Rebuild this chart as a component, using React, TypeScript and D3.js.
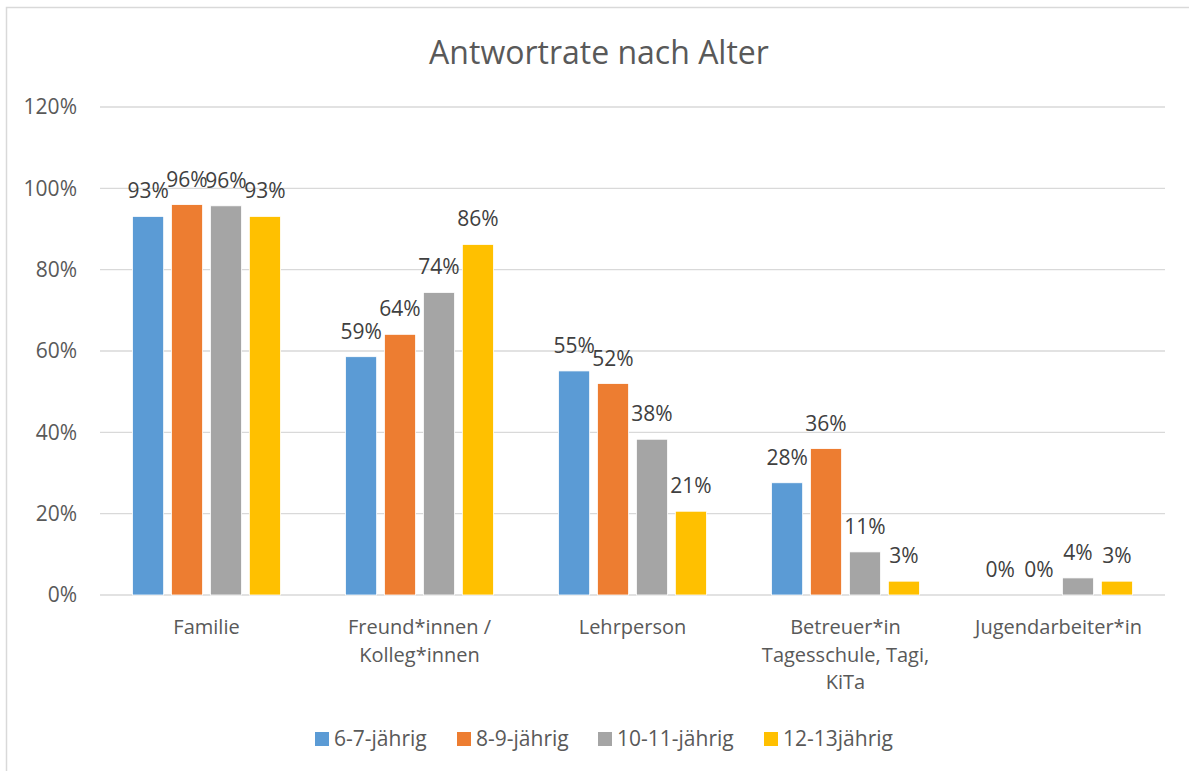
import { useEffect, useRef } from "react";
import * as d3 from "d3";

const categories = [
  ["Familie"],
  ["Freund*innen /", "Kolleg*innen"],
  ["Lehrperson"],
  ["Betreuer*in", "Tagesschule, Tagi,", "KiTa"],
  ["Jugendarbeiter*in"],
];
const seriesNames = ["6-7-jährig", "8-9-jährig", "10-11-jährig", "12-13jährig"];
const seriesColors = ["#5b9bd5", "#ed7d31", "#a5a5a5", "#ffc000"];

// values per series, in category order (percent)
const age6to7 = [93.1, 58.6, 55.1, 27.6, 0];
const age8to9 = [96.0, 64.1, 52.0, 36.0, 0];
const age10to11 = [95.7, 74.4, 38.3, 10.6, 4.2];
const age12to13 = [93.1, 86.2, 20.6, 3.4, 3.4];

const yTicks = [0, 20, 40, 60, 80, 100, 120];

const W = 1189;
const H = 771;

const App = () => {
  const svgRef = useRef<SVGSVGElement | null>(null);

  useEffect(() => {
    if (!svgRef.current) return;
    const svg = d3.select(svgRef.current);
    svg.selectAll("*").remove();

    const font = "Open Sans, Noto Sans, sans-serif";
    const values = [age6to7, age8to9, age10to11, age12to13];

    // chart frame
    svg
      .append("rect")
      .attr("x", 6.5)
      .attr("y", 7.5)
      .attr("width", W + 20)
      .attr("height", H + 20)
      .attr("fill", "#fff")
      .attr("stroke", "#d9d9d9")
      .attr("stroke-width", 1.5);

    svg
      .append("text")
      .attr("x", 599)
      .attr("y", 64)
      .attr("text-anchor", "middle")
      .attr("font-family", font)
      .attr("font-size", 32)
      .attr("fill", "#595959")
      .text("Antwortrate nach Alter");

    const left = 100;
    const right = 1165;
    const y = d3.scaleLinear().domain([0, 120]).range([595, 107]);
    const x0 = d3
      .scaleBand<number>()
      .domain(categories.map((_, i) => i))
      .range([left, right]);
    const x1 = d3
      .scaleBand<string>()
      .domain(seriesNames)
      .range([-74, 74])
      .paddingInner(0.2);

    // gridlines + ticks
    const grid = svg.append("g");
    yTicks.forEach((t) => {
      grid
        .append("line")
        .attr("x1", left)
        .attr("x2", right)
        .attr("y1", y(t))
        .attr("y2", y(t))
        .attr("stroke", "#d9d9d9")
        .attr("stroke-width", 1.3);
      grid
        .append("text")
        .attr("x", 77)
        .attr("y", y(t))
        .attr("dy", "0.35em")
        .attr("text-anchor", "end")
        .attr("font-family", font)
        .attr("font-size", 21)
        .attr("fill", "#595959")
        .text(`${t}%`);
    });

    // bars
    seriesNames.forEach((s, si) => {
      const g = svg.append("g");
      values[si].forEach((v, ci) => {
        const cx = (x0(ci) || 0) + x0.bandwidth() / 2;
        const bx = cx + (x1(s) || 0);
        if (v > 0) {
          g.append("rect")
            .attr("x", bx)
            .attr("y", y(v))
            .attr("width", x1.bandwidth())
            .attr("height", y(0) - y(v))
            .attr("fill", seriesColors[si])
            .attr("stroke", "#fff")
            .attr("stroke-width", 0.8);
        }
        g.append("text")
          .attr("x", bx + x1.bandwidth() / 2)
          .attr("y", y(v) - 18)
          .attr("text-anchor", "middle")
          .attr("font-family", font)
          .attr("font-size", 21)
          .attr("fill", "#404040")
          .text(`${Math.round(v)}%`);
      });
    });

    // category labels
    categories.forEach((lines, ci) => {
      const cx = (x0(ci) || 0) + x0.bandwidth() / 2;
      lines.forEach((ln, li) => {
        svg
          .append("text")
          .attr("x", cx)
          .attr("y", 634 + li * 27.5)
          .attr("text-anchor", "middle")
          .attr("font-family", font)
          .attr("font-size", 20)
          .attr("fill", "#595959")
          .text(ln);
      });
    });

    // legend
    const legendX = [315, 457, 598, 764];
    seriesNames.forEach((s, si) => {
      svg
        .append("rect")
        .attr("x", legendX[si])
        .attr("y", 732)
        .attr("width", 14)
        .attr("height", 14)
        .attr("fill", seriesColors[si]);
      svg
        .append("text")
        .attr("x", legendX[si] + 19)
        .attr("y", 746)
        .attr("font-family", font)
        .attr("font-size", 21)
        .attr("fill", "#595959")
        .text(s);
    });
  }, []);

  return (
    <svg
      ref={svgRef}
      width={W}
      height={H}
      style={{ position: "absolute", left: 0, top: 0, display: "block" }}
    />
  );
};

export default App;
